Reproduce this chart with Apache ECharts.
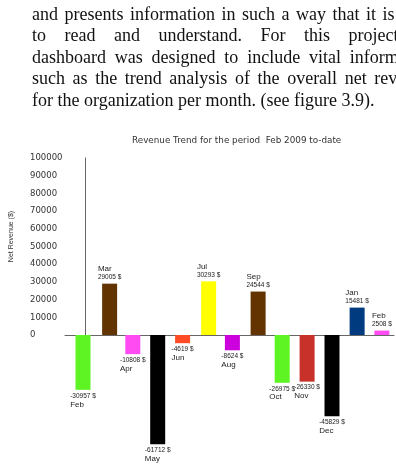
<!DOCTYPE html>
<html>
<head>
<meta charset="utf-8">
<script src="https://cdn.jsdelivr.net/npm/echarts@6/dist/echarts.min.js"></script>
<style>
  html, body { margin: 0; padding: 0; background: #fff; overflow: hidden; }
  #chart { position: absolute; left: 0; top: 0; width: 396px; height: 468px; }
  .txt { position: absolute; left: 32px; font-family: 'Liberation Serif', serif; font-size: 18px;
         line-height: 20px; white-space: nowrap; color: #111; z-index: 2; }
</style>
</head>
<body>
<div id="chart"></div>
<div class="txt" style="top:4px; word-spacing:2px">and presents information in such a way that it is easy</div>
<div class="txt" style="top:25px; word-spacing:14px">to read and understand. For this project, a</div>
<div class="txt" style="top:47px; word-spacing:4.3px">dashboard was designed to include vital information</div>
<div class="txt" style="top:68px; word-spacing:3.1px">such as the trend analysis of the overall net revenue</div>
<div class="txt" style="top:90px">for the organization per month. (see figure 3.9).</div>
<script>
// meses desde Feb 2009
const months = ['Feb', 'Mar', 'Apr', 'May', 'Jun', 'Jul', 'Aug', 'Sep', 'Oct', 'Nov', 'Dec', 'Jan', 'Feb'];
const netRevenue = [-30957, 29005, -10808, -61712, -4619, 30293, -8624, 24544, -26975, -26330, -45829, 15481, 2508];
const barColors = ['#5ef423', '#623400', '#ff4cf2', '#000000', '#ff4b26', '#ffff00', '#cc00dc',
                   '#633400', '#5ef423', '#c8302a', '#000000', '#003b80', '#ff4cf2'];

const chart = echarts.init(document.getElementById('chart'));

// positivos arriba del eje, negativos en la grilla de abajo
const posData = netRevenue.map((v, i) => ({
  value: [i, v > 0 ? v : '-'],
  itemStyle: { color: barColors[i] }
}));
const negData = netRevenue.map((v, i) => ({
  value: [i, v < 0 ? v : '-'],
  itemStyle: { color: barColors[i] }
}));

const rich = {
  m: { fontFamily: 'Liberation Sans', fontSize: 8, color: '#222', align: 'left', lineHeight: 9 },
  v: { fontFamily: 'Liberation Sans', fontSize: 6.5, color: '#222', align: 'left', lineHeight: 8 }
};

const option = {
  backgroundColor: '#fff',
  animation: false,
  title: {
    text: 'Revenue Trend for the period  Feb 2009 to-date',
    left: 127,
    top: 131,
    textStyle: { fontFamily: 'DejaVu Sans', fontSize: 8.8, fontWeight: 'normal', color: '#333' }
  },
  grid: [
    { left: 63, right: 2, top: 158, height: 177 },
    { left: 63, right: 2, top: 335, height: 124 }
  ],
  xAxis: [
    {
      gridIndex: 0, type: 'value', min: -0.803, max: 12.49,
      splitLine: { show: false }, axisTick: { show: false }, axisLabel: { show: false },
      axisLine: { show: true, lineStyle: { color: '#666', width: 1 } }
    },
    {
      gridIndex: 1, type: 'value', min: -0.803, max: 12.49, show: false
    }
  ],
  yAxis: [
    {
      gridIndex: 0, type: 'value', min: 0, max: 100000, interval: 10000,
      name: 'Net Revenue ($)',
      nameLocation: 'middle',
      nameGap: 50,
      nameTextStyle: { fontFamily: 'Liberation Sans', fontSize: 7, color: '#333', padding: [0, 0, 0, 20] },
      splitLine: { show: false },
      axisTick: { show: false },
      axisLine: { show: true, lineStyle: { color: '#666', width: 1 } },
      axisLabel: {
        align: 'left', margin: 35, fontFamily: 'DejaVu Sans', fontSize: 8.5, color: '#333',
        formatter: v => String(v)
      }
    },
    {
      gridIndex: 1, type: 'value', min: -70000, max: 0, show: false
    }
  ],
  series: [
    {
      type: 'bar', xAxisIndex: 0, yAxisIndex: 0, barWidth: 15,
      data: posData,
      label: {
        show: true, position: 'top', distance: 2,
        formatter: p => `{m|${months[p.dataIndex]}}\n{v|${netRevenue[p.dataIndex]} $}`,
        rich
      }
    },
    {
      type: 'bar', xAxisIndex: 1, yAxisIndex: 1, barWidth: 15,
      data: negData,
      label: {
        show: true, position: 'bottom', distance: 2,
        formatter: p => `{v|${netRevenue[p.dataIndex]} $}\n{m|${months[p.dataIndex]}}`,
        rich
      }
    }
  ]
};

chart.setOption(option);
</script>
</body>
</html>
